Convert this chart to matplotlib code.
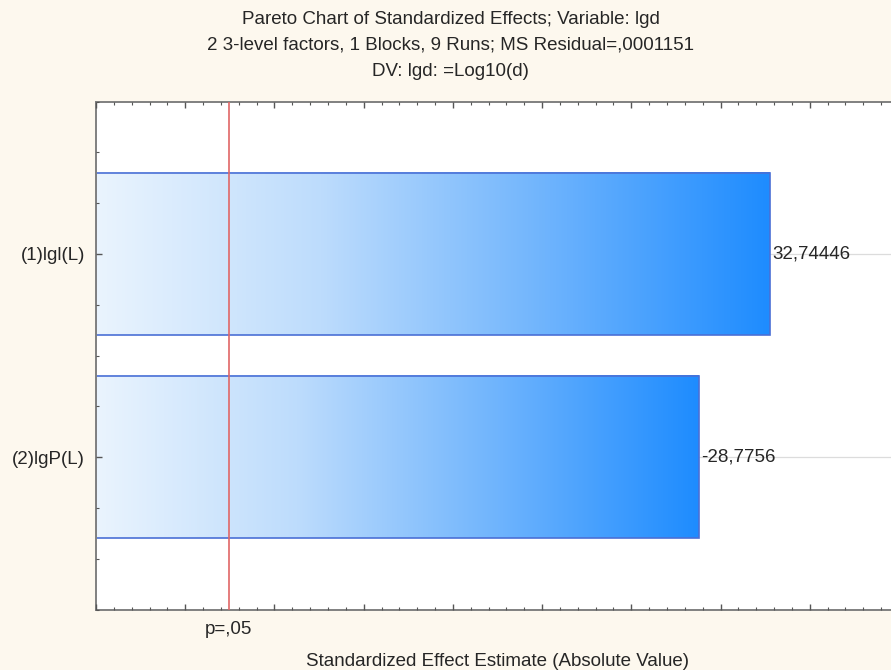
import numpy as np
import matplotlib
matplotlib.use("Agg")
import matplotlib.pyplot as plt
from matplotlib.colors import LinearSegmentedColormap
from matplotlib.ticker import MultipleLocator
import matplotlib.transforms as mtransforms

plt.rcParams['font.family'] = ['Liberation Sans', 'DejaVu Sans']

# Effects (absolute standardized estimates) and their printed labels
effects = ["(1)lgl(L)", "(2)lgP(L)"]
effect_values = [32.74446, 28.7756]
effect_labels = ["32,74446", "-28,7756"]
t_critical = 2.447          # t(0.975; df=6), p = .05 reference line
p_label = "p=,05"

title_lines = [
    "Pareto Chart of Standardized Effects; Variable: lgd",
    "2 3-level factors, 1 Blocks, 9 Runs; MS Residual=,0001151",
    "DV: lgd: =Log10(d)",
]
x_label = "Standardized Effect Estimate (Absolute Value)"

x_min, x_max = -5, 40
bar_height = 0.8
fs = 13.5
text_color = "#262626"

fig = plt.figure(figsize=(8.91, 6.70), dpi=100)
fig.patch.set_facecolor("#fdf8ee")
ax = fig.add_axes([96 / 891, 1 - 609.5 / 670, 803 / 891, 508 / 670])
ax.set_facecolor("white")
ax.set_axisbelow(False)

cmap = LinearSegmentedColormap.from_list("bar_grad", ["#eaf4fe", "#bddcfc", "#6fb4fd", "#1e8cff"])
gradient = np.linspace(0, 1, 256).reshape(1, -1)

ypos = np.arange(len(effects))
for y in ypos:
    ax.axhline(y, color="#dcdcdc", linewidth=0.9, zorder=1)

for y, v in zip(ypos, effect_values):
    ax.imshow(gradient, cmap=cmap, aspect="auto", interpolation="bilinear",
              extent=(x_min, v, y + bar_height / 2, y - bar_height / 2), zorder=2)
ax.barh(ypos, np.array(effect_values) - x_min, left=x_min, height=bar_height,
        fill=False, edgecolor="#4a70d6", linewidth=1.2, zorder=2.2)

ax.axvline(t_critical, color="#e06666", linewidth=1.2, zorder=4)

for y, v, lab in zip(ypos, effect_values, effect_labels):
    ax.annotate(lab, xy=(v, y), xytext=(2, 0), textcoords="offset points",
                ha="left", va="center", fontsize=fs, color=text_color, zorder=5)

ax.set_xlim(x_min, x_max)
ax.set_ylim(len(effects) - 1 + 0.75, -0.75)

ax.set_yticks(ypos)
ax.set_yticklabels(effects, fontsize=fs, color=text_color)
ax.yaxis.set_minor_locator(MultipleLocator(0.25))
ax.xaxis.set_major_locator(MultipleLocator(5))
ax.xaxis.set_minor_locator(MultipleLocator(1))
ax.tick_params(axis="x", which="both", direction="in", top=True, bottom=True,
               labelbottom=False, color="#555555")
ax.tick_params(axis="y", which="both", direction="in", left=True, right=False,
               color="#555555", pad=8)
ax.tick_params(which="major", length=4, width=1)
ax.tick_params(which="minor", length=2.5, width=0.8)

for side in ["left", "bottom", "top", "right"]:
    ax.spines[side].set_color("#808080")
    ax.spines[side].set_linewidth(1.4)

trans = mtransforms.blended_transform_factory(ax.transData, ax.transAxes)
ax.text(t_critical, -0.022, p_label, transform=trans, ha="center", va="top",
        fontsize=fs, color=text_color)
ax.set_xlabel(x_label, fontsize=fs, color=text_color, labelpad=31)

for i, line in enumerate(title_lines):
    fig.text(0.506, 1 - (19 + 26 * i) / 670, line, ha="center", va="center",
             fontsize=fs, color=text_color)

fig.savefig("out.png", dpi=100, facecolor=fig.get_facecolor())
